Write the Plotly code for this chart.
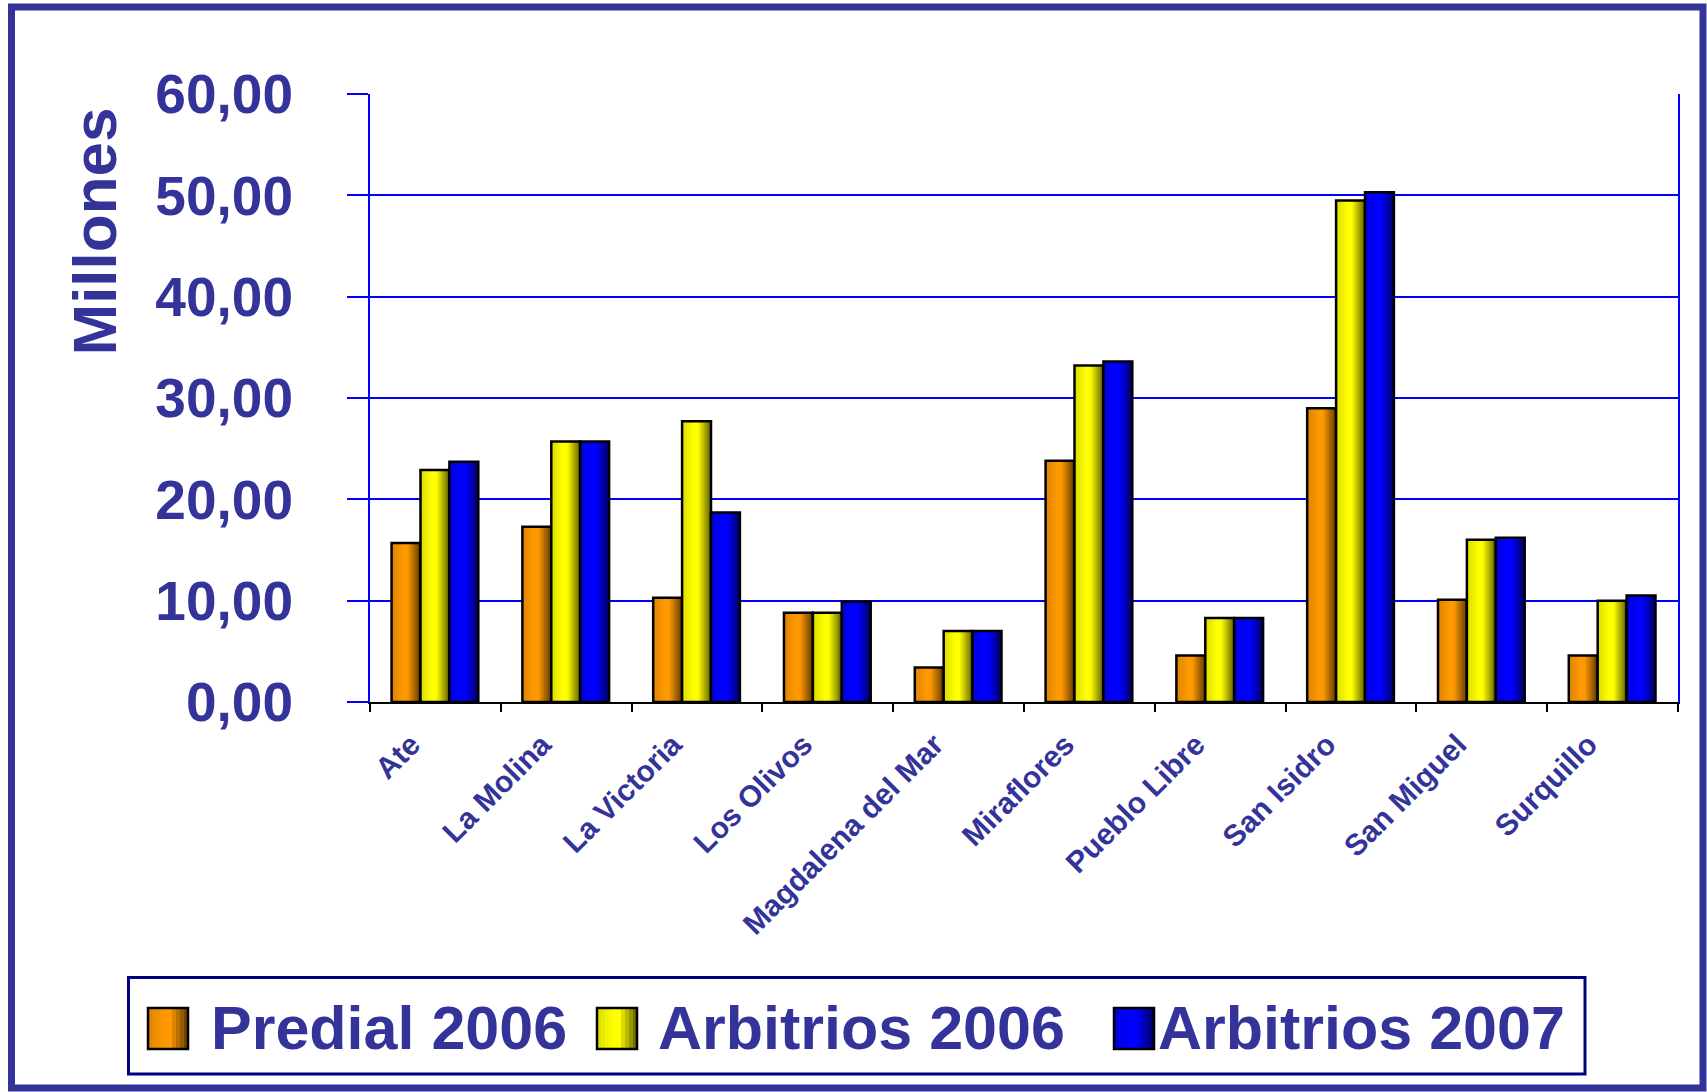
import plotly.graph_objects as go

# ---------------- data ----------------
categories = ["Ate", "La Molina", "La Victoria", "Los Olivos", "Magdalena del Mar",
              "Miraflores", "Pueblo Libre", "San Isidro", "San Miguel", "Surquillo"]
predial_2006 = [15.7, 17.3, 10.3, 8.8, 3.4, 23.8, 4.6, 29.0, 10.1, 4.6]
arbitrios_2006 = [22.9, 25.7, 27.7, 8.8, 7.0, 33.2, 8.3, 49.5, 16.0, 10.0]
arbitrios_2007 = [23.7, 25.7, 18.7, 9.9, 7.0, 33.6, 8.3, 50.3, 16.2, 10.5]
series_names = ["Predial 2006", "Arbitrios 2006", "Arbitrios 2007"]
y_tick_values = [0, 10, 20, 30, 40, 50, 60]
y_title = "Millones"

series_values = [predial_2006, arbitrios_2006, arbitrios_2007]
base_colors = [(255, 153, 0), (255, 255, 0), (0, 0, 255)]

FONT = "Liberation Sans, Arial, sans-serif"
TXT = "#333399"

W, H = 1707, 1092
L, R, T, B = 370, 1678, 94, 702


def px(x):
    return (x - L) / (R - L)


def py(y):
    return (B - y) / (B - T)


def shade(rgb, t):
    # horizontal cylinder-like shading: light around 40-55%, dark at right edge
    if t < 0.4:
        f = 0.86 + (1.0 - 0.86) * t / 0.4
    elif t < 0.55:
        f = 1.0
    else:
        f = 1.0 - (1.0 - 0.38) * (t - 0.55) / 0.45
    return "rgb(%d,%d,%d)" % tuple(int(round(c * f)) for c in rgb)


fig = go.Figure()
BAR_W = 0.221
GROUP_LEFT = -0.335
N = 16
for i, (name, vals, col) in enumerate(zip(series_names, series_values, base_colors)):
    left = GROUP_LEFT + i * BAR_W
    for k in range(N):
        t0 = k / N
        fig.add_trace(go.Bar(
            x=categories, y=vals, name=name, showlegend=False,
            offset=left + t0 * BAR_W, width=BAR_W * (1 - t0),
            marker=dict(color=shade(col, (k + 0.5) / N), line=dict(width=0)),
            opacity=1, hoverinfo="skip"))
    fig.add_trace(go.Bar(
        x=categories, y=vals, name=name, showlegend=False,
        offset=left, width=BAR_W,
        marker=dict(color="rgba(0,0,0,0)", line=dict(color="black", width=2.5)),
        opacity=1))

shapes = []
# outer frame
shapes.append(dict(type="rect", xref="paper", yref="paper",
                   x0=px(11.5), x1=px(1703), y0=py(1088), y1=py(7),
                   line=dict(color="#333399", width=7), fillcolor="rgba(0,0,0,0)", layer="below"))
# legend frame
shapes.append(dict(type="rect", xref="paper", yref="paper",
                   x0=px(128.5), x1=px(1585), y0=py(1074), y1=py(977.5),
                   line=dict(color="#000080", width=3), fillcolor="rgba(0,0,0,0)"))

annotations = []
sym_x = [148, 597, 1114]
txt_x = [209, 656, 1156]
for name, col, sx, tx in zip(series_names, base_colors, sym_x, txt_x):
    sw = 40
    M = 10
    for k in range(M):
        a = sx + sw * k / M
        shapes.append(dict(type="rect", xref="paper", yref="paper",
                           x0=px(a), x1=px(sx + sw), y0=py(1049), y1=py(1008),
                           line=dict(width=0), fillcolor=shade(col, (k + 0.5) / M)))
    shapes.append(dict(type="rect", xref="paper", yref="paper",
                       x0=px(sx), x1=px(sx + sw), y0=py(1049), y1=py(1008),
                       line=dict(color="black", width=2.5), fillcolor="rgba(0,0,0,0)"))
    annotations.append(dict(text=name, xref="paper", yref="paper", x=px(tx), y=py(1028),
                            xanchor="left", yanchor="middle", showarrow=False,
                            font=dict(family=FONT, size=61, color=TXT, weight="bold")))

annotations.append(dict(text=y_title, xref="paper", yref="paper", x=px(94), y=py(231.5),
                        xanchor="center", yanchor="middle", showarrow=False, textangle=-90,
                        font=dict(family=FONT, size=62, color=TXT, weight="bold")))

fig.update_layout(
    width=W, height=H,
    margin=dict(l=L, r=W - R, t=T, b=H - B, pad=0),
    barmode="overlay",
    separators=",.",
    paper_bgcolor="white", plot_bgcolor="white",
    showlegend=False,
    shapes=shapes, annotations=annotations,
    font=dict(family=FONT, color=TXT),
    xaxis=dict(type="category", range=[-0.5, 9.5], showline=True, linecolor="black", linewidth=2,
               ticks="outside", tickson="boundaries", ticklen=8, tickwidth=2, tickcolor="black",
               tickangle=-45, showgrid=False, ticklabelstandoff=11, ticklabelshift=-24,
               tickfont=dict(family=FONT, size=30, color=TXT, weight="bold")),
    yaxis=dict(range=[0, 60], tickvals=y_tick_values, tickformat=".2f",
               showline=True, linecolor="#0000FF", linewidth=2, mirror=True,
               ticks="outside", ticklen=21, tickwidth=2, tickcolor="#0000FF",
               ticklabelstandoff=43,
               showgrid=True, gridcolor="#0000FF", gridwidth=2, zeroline=False,
               tickfont=dict(family=FONT, size=55, color=TXT, weight="bold")),
)

fig.write_html("out.html", config={"displayModeBar": False},
               post_script="document.body.style.margin='0';document.body.style.overflow='hidden';")
